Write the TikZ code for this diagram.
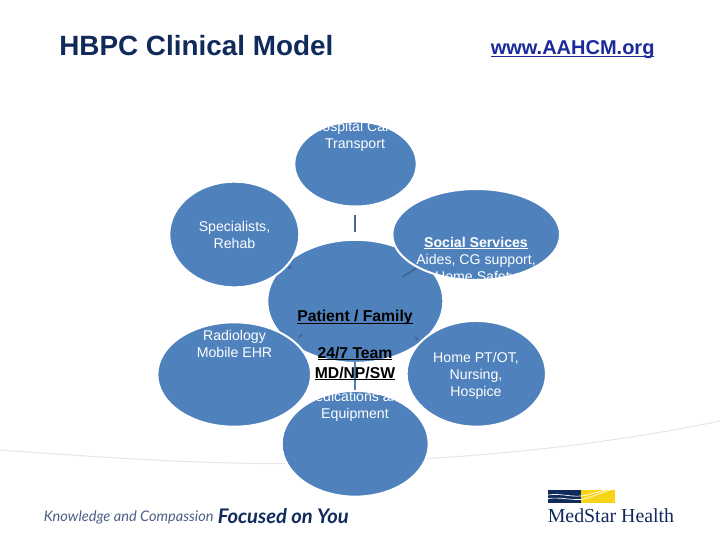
\documentclass[tikz,border=0pt]{standalone}
\usepackage{fontspec}
\setmainfont{Liberation Sans}
\newfontfamily\seriffont{Liberation Serif}
\newfontfamily\tagfont{Lato}
\usetikzlibrary{shapes.geometric}
\definecolor{bubble}{HTML}{4F81BD}
\definecolor{spoke}{HTML}{44689C}
\definecolor{navy}{HTML}{102A5C}
\definecolor{urlblue}{HTML}{1A2A9A}
\definecolor{gold}{HTML}{F7D417}
\definecolor{rule}{HTML}{E6E6E6}
\newlength{\pxu}\setlength{\pxu}{0.75pt}
\newsavebox{\ulbox}
\newcommand{\thul}[1]{\sbox{\ulbox}{#1}\leavevmode\rlap{\rule[-1.7pt]{\wd\ulbox}{0.85pt}}\usebox{\ulbox}}
\tikzset{
  bub/.style n args={2}{ellipse,minimum width=#1*\pxu,minimum height=#2*\pxu,inner sep=0pt,fill=bubble,draw=white,line width=1.5pt},
  bubtext/.style={text=white,font=\fontsize{10.6pt}{12.75pt}\selectfont,align=center,inner sep=0pt},
  inktext/.style={text=black,font=\fontsize{11.8pt}{15pt}\bfseries\selectfont,align=center,inner sep=0pt},
  spokeline/.style={draw=spoke,line width=1.5pt},
  spokeblue/.style={draw=bubble,line width=1.5pt},
}
\begin{document}
\begin{tikzpicture}[x=0.75pt,y=-0.75pt]
\useasboundingbox (0,0) rectangle (720,540);
% background rule
\draw[rule,line width=0.8pt] (0,450) .. controls (110,458) and (200,464) .. (290,463.5)
   .. controls (430,462) and (580,450) .. (720,421);
% bubbles
\node[bub={176}{123}] (centre) at (355.3,301.3) {};
\node[bub={122.4}{85}] (top) at (355.5,164) {};
\node[bub={130}{105.6}] (spec) at (234.3,234.5) {};
\node[bub={167.7}{91}] (social) at (476.2,234.5) {};
\node[bub={153.7}{104.4}] (labs) at (234.2,374.5) {};
\node[bub={139.3}{105.7}] (home) at (476.3,373.8) {};
\node[bub={147}{105.7}] (meds) at (355.2,443.8) {};
% spokes: visible stubs
\coordinate (topA) at (355.3,215);
\coordinate (topB) at (355.3,232);
\coordinate (socA) at (402,277);
\coordinate (socB) at (416,268.5);
\coordinate (specA) at (288.5,268.5);
\coordinate (specB) at (292,266.5);
\coordinate (labA) at (298.5,337.5);
\coordinate (labB) at (302,334.5);
\coordinate (homeA) at (415,337);
\coordinate (homeB) at (418,340);
\coordinate (medA) at (355,362);
\coordinate (medB) at (355,390);
\draw[spokeline] (topA) -- (topB);
\draw[spokeline] (socA) -- (socB);
\draw[spokeline] (specA) -- (specB);
\draw[spokeline] (labA) -- (labB);
\draw[spokeline] (homeA) -- (homeB);
\draw[spokeblue] (medA) -- (medB);
% bubble text, clipped to the bubbles as in the picture
\begin{scope}
\clip (top.center) ellipse [x radius=61,y radius=42.5];
\node[bubtext] (ttop) at (355,136) {Hospital Care\\Transport};
\end{scope}
\node[bubtext] (tspec) at (234.5,234.5) {Specialists,\\Rehab};
\begin{scope}
\clip (social.center) ellipse [x radius=83.5,y radius=45.5];
\node[bubtext] (tsoc) at (476,260.5) {\thul{\textbf{Social Services}}\\Aides, CG support,\\Home Safety};
\end{scope}
\begin{scope}
\clip (labs.center) ellipse [x radius=77,y radius=52];
\node[bubtext] (tlab) at (234.5,335) {Labs \&\\Radiology\\Mobile EHR};
\end{scope}
\node[bubtext] (thome) at (476,375.5) {Home PT/OT,\\Nursing,\\Hospice};
\begin{scope}
\clip (meds.center) ellipse [x radius=73.5,y radius=52.8];
\node[bubtext] (tmed) at (355,406.5) {Medications and\\Equipment};
\end{scope}
\node[inktext] (pf) at (355,317.5) {\thul{Patient / Family}};
\node[inktext] (team) at (355,363.5) {\thul{24/7 Team}\\\thul{MD/NP/SW}};
% title
\node[anchor=west,inner sep=0pt,text=navy,font=\fontsize{20.9pt}{24pt}\bfseries\selectfont] (title) at (59,46) {HBPC Clinical Model};
\node[anchor=west,inner sep=0pt,text=urlblue,font=\fontsize{15pt}{18pt}\bfseries\selectfont] (url) at (490.5,49.5) {\thul{www.AAHCM.org}};
% footer
\node[anchor=west,inner sep=0pt,text=navy!75,font=\tagfont\itshape\fontsize{10.95pt}{13pt}\selectfont] (tag) at (43.5,517) {Knowledge and Compassion};
\node[anchor=west,inner sep=0pt,text=navy,font=\tagfont\bfseries\itshape\fontsize{15.1pt}{18pt}\selectfont] (focus) at (217.5,516) {Focused on You};
% logo
\fill[navy] (548,490) rectangle (581,503);
\fill[gold] (581,490) rectangle (615,503);
\draw[white,line width=0.5pt] (548,495) .. controls (560,493) and (570,497) .. (581,496);
\draw[white,line width=0.5pt] (548,498.5) .. controls (560,497) and (570,500) .. (581,499.5);
\draw[white,line width=0.5pt] (581,496) .. controls (590,495) and (596,492) .. (606,490);
\draw[white,line width=0.5pt] (581,499.5) .. controls (590,498) and (600,493) .. (610,490);
\node[anchor=west,inner sep=0pt,text=navy,font=\seriffont\fontsize{14.9pt}{17pt}\selectfont] (med) at (547.5,516) {MedStar Health};
\end{tikzpicture}
\end{document}
